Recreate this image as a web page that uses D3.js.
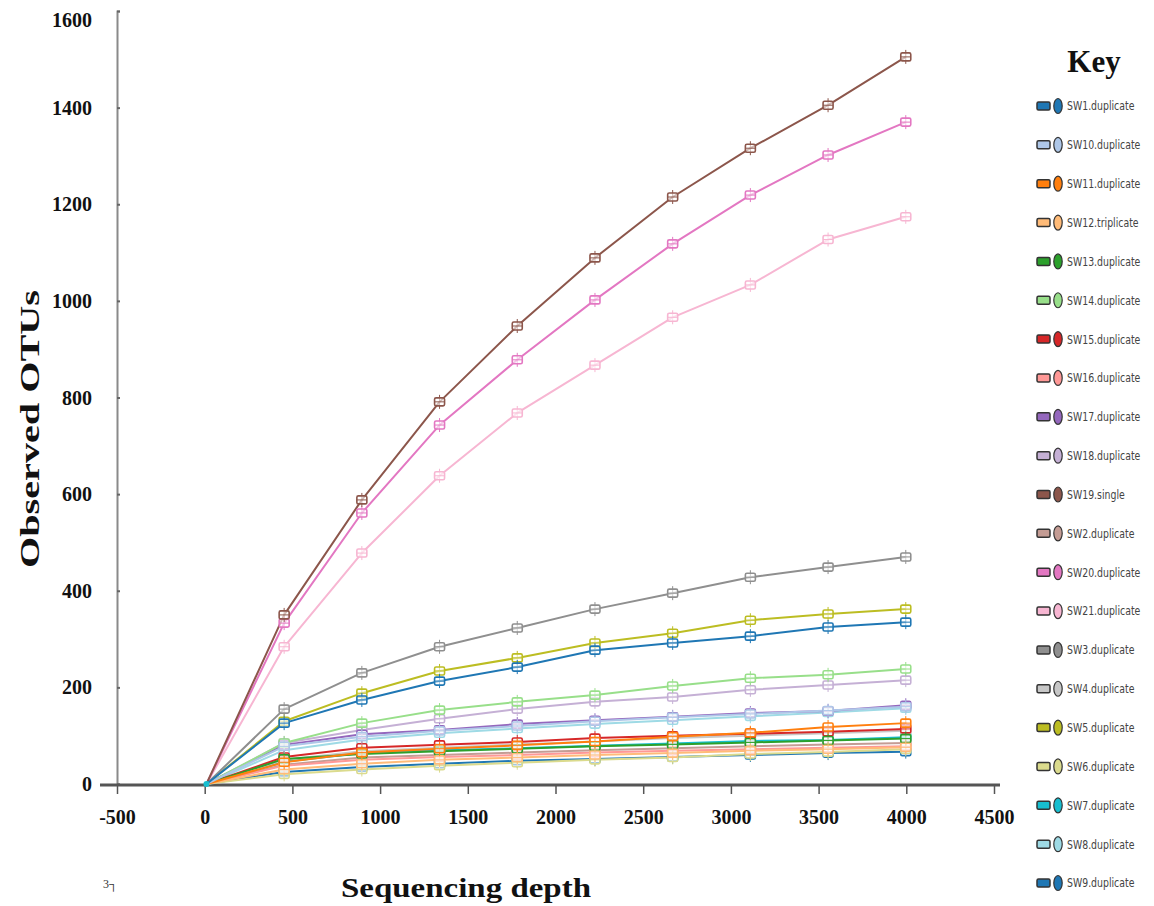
<!DOCTYPE html>
<html>
<head>
<meta charset="utf-8">
<script src="https://cdn.jsdelivr.net/npm/d3@7"></script>
<style>
  html, body { margin: 0; padding: 0; background: #ffffff; }
  svg { display: block; }
</style>
</head>
<body>
<svg id="chart" width="1154" height="906"></svg>
<script>
// ---------- data ----------
const depths = [10, 453, 896, 1339, 1782, 2225, 2668, 3111, 3554, 3997];
const xTicks = [-500, 0, 500, 1000, 1500, 2000, 2500, 3000, 3500, 4000, 4500];
const yTicks = [0, 200, 400, 600, 800, 1000, 1200, 1400, 1600];
const sampleNames = ["SW1.duplicate", "SW10.duplicate", "SW11.duplicate", "SW12.triplicate",
  "SW13.duplicate", "SW14.duplicate", "SW15.duplicate", "SW16.duplicate", "SW17.duplicate",
  "SW18.duplicate", "SW19.single", "SW2.duplicate", "SW20.duplicate", "SW21.duplicate",
  "SW3.duplicate", "SW4.duplicate", "SW5.duplicate", "SW6.duplicate", "SW7.duplicate",
  "SW8.duplicate", "SW9.duplicate"];
const sampleColors = ["#1f77b4", "#aec7e8", "#ff7f0e", "#ffbb78", "#2ca02c", "#98df8a",
  "#d62728", "#ff9896", "#9467bd", "#c5b0d5", "#8c564b", "#c49c94", "#e377c2", "#f7b6d2",
  "#8f8f8f", "#c7c7c7", "#bcbd22", "#dbdb8d", "#17becf", "#9edae5", "#1f77b4"];
const SW1  = [0, 126, 174, 213, 242, 277, 292, 306, 325, 335];
const SW10 = [0, 78, 98, 110, 120, 130, 138, 145, 152, 160];
const SW11 = [0, 45, 65, 73, 80, 88, 98, 106, 118, 126];
const SW12 = [0, 30, 42, 50, 55, 60, 64, 69, 72, 76];
const SW13 = [0, 52, 62, 68, 73, 78, 82, 86, 90, 94];
const SW14 = [0, 85, 126, 153, 170, 184, 203, 219, 226, 238];
const SW15 = [0, 56, 75, 81, 87, 95, 100, 104, 108, 114];
const SW16 = [0, 38, 50, 56, 60, 65, 69, 72, 75, 78];
const SW17 = [0, 81, 103, 112, 124, 132, 139, 147, 151, 163];
const SW18 = [0, 85, 112, 135, 155, 170, 180, 195, 205, 215];
const SW19 = [0, 350, 588, 791, 948, 1089, 1215, 1316, 1405, 1505];
const SW2  = [0, 40, 55, 60, 65, 70, 74, 78, 82, 85];
const SW20 = [0, 333, 561, 743, 878, 1002, 1118, 1219, 1302, 1370];
const SW21 = [0, 284, 478, 638, 768, 867, 966, 1033, 1127, 1174];
const SW3  = [0, 155, 230, 284, 323, 362, 395, 428, 449, 470];
const SW4  = [0, 50, 68, 75, 82, 88, 95, 100, 105, 110];
const SW5  = [0, 130, 188, 234, 261, 292, 312, 339, 352, 362];
const SW6  = [0, 20, 30, 38, 44, 50, 55, 62, 66, 72];
const SW7  = [0, 46, 64, 70, 74, 79, 84, 89, 91, 97];
const SW8  = [0, 70, 92, 105, 115, 124, 132, 140, 148, 157];
const SW9  = [0, 25, 35, 42, 48, 52, 56, 60, 64, 67];
const sampleValues = [SW1, SW10, SW11, SW12, SW13, SW14, SW15, SW16, SW17, SW18, SW19,
  SW2, SW20, SW21, SW3, SW4, SW5, SW6, SW7, SW8, SW9];

const series = sampleNames.map((name, i) => ({
  name, color: sampleColors[i],
  points: depths.map((d, j) => ({ x: d, y: sampleValues[i][j] }))
}));

// ---------- layout ----------
const svg = d3.select("#chart");
const serif = "'Liberation Serif', 'Times New Roman', serif";
const narrow = "'Liberation Sans Narrow', 'DejaVu Sans Condensed', 'Liberation Sans', sans-serif";

const x = d3.scaleLinear().domain([-500, 4500]).range([117, 994]);
const y = d3.scaleLinear().domain([0, 1600]).range([784, 11]);

// y axis
const yAxis = svg.append("g").attr("transform", `translate(117,0)`)
  .call(d3.axisRight(y).tickValues(yTicks).tickSize(3).tickFormat(""));
yAxis.select(".domain").attr("stroke", "#8a8a8a").attr("stroke-width", 2);
yAxis.selectAll(".tick line").attr("stroke", "#666").attr("stroke-width", 2);

svg.append("g").selectAll("text").data(yTicks).join("text")
  .attr("x", 92).attr("y", d => y(d) + (d === 1600 ? 9 : 0))
  .attr("text-anchor", "end").attr("dominant-baseline", "central")
  .attr("font-family", serif).attr("font-weight", "bold").attr("font-size", 20)
  .attr("fill", "#111").text(d => d);

// x axis
const xAxis = svg.append("g").attr("transform", `translate(0,785)`)
  .call(d3.axisBottom(x).tickValues(xTicks).tickSize(9).tickSizeOuter(0).tickPadding(16)
    .tickFormat(d => String(d)));
xAxis.select(".domain").attr("stroke", "#555").attr("stroke-width", 3)
  .attr("d", "M100,0H1000");
xAxis.selectAll(".tick line").attr("stroke", "#555").attr("stroke-width", 1.5);
xAxis.selectAll(".tick text").attr("font-family", serif).attr("font-weight", "bold")
  .attr("font-size", 20).attr("fill", "#111");

// lines
const line = d3.line().x(d => x(d.x)).y(d => y(d.y));
const plot = svg.append("g");
const drawOrder = d3.range(series.length).reverse();
drawOrder.forEach(i => {
  const s = series[i];
  plot.append("path").datum(s.points)
    .attr("d", line).attr("fill", "none")
    .attr("stroke", s.color).attr("stroke-width", 2).attr("stroke-linejoin", "round");
});
drawOrder.forEach(i => {
  const s = series[i];
  const g = plot.append("g");
  const pts = s.points.slice(1);
  g.selectAll("line.w").data(pts).join("line")
    .attr("x1", d => x(d.x)).attr("x2", d => x(d.x))
    .attr("y1", d => y(d.y) - 7).attr("y2", d => y(d.y) + 7)
    .attr("stroke", s.color).attr("stroke-width", 1);
  g.selectAll("rect").data(pts).join("rect")
    .attr("x", d => x(d.x) - 5).attr("y", d => y(d.y) - 4)
    .attr("width", 10).attr("height", 8).attr("rx", 1.5)
    .attr("fill", "#fff").attr("fill-opacity", 0.6)
    .attr("stroke", s.color).attr("stroke-width", 1.6);
  g.selectAll("line.m").data(pts).join("line")
    .attr("x1", d => x(d.x) - 5).attr("x2", d => x(d.x) + 5)
    .attr("y1", d => y(d.y)).attr("y2", d => y(d.y))
    .attr("stroke", s.color).attr("stroke-width", 1);
});
// origin marker
svg.append("circle").attr("cx", x(depths[0])).attr("cy", y(0)).attr("r", 3)
  .attr("fill", sampleColors[18]);

// axis titles
svg.append("text")
  .attr("transform", "translate(39,429) rotate(-90)")
  .attr("text-anchor", "middle")
  .attr("font-family", serif).attr("font-weight", "bold").attr("font-size", 28)
  .attr("textLength", 278).attr("lengthAdjust", "spacingAndGlyphs")
  .attr("fill", "#111").text("Observed OTUs");
svg.append("text")
  .attr("x", 466).attr("y", 897).attr("text-anchor", "middle")
  .attr("font-family", serif).attr("font-weight", "bold").attr("font-size", 28)
  .attr("textLength", 250).attr("lengthAdjust", "spacingAndGlyphs")
  .attr("fill", "#111").text("Sequencing depth");
svg.append("text")
  .attr("x", 103).attr("y", 888)
  .attr("font-family", serif).attr("font-size", 12)
  .attr("fill", "#333").text("3┐");

// legend
svg.append("text")
  .attr("x", 1094).attr("y", 72).attr("text-anchor", "middle")
  .attr("font-family", serif).attr("font-weight", "bold").attr("font-size", 31)
  .attr("fill", "#111").text("Key");
const leg = svg.append("g").selectAll("g").data(series).join("g")
  .attr("transform", (d, i) => `translate(0,${106 + i * 38.85})`);
leg.append("rect").attr("x", 1037).attr("y", -4).attr("width", 13).attr("height", 8)
  .attr("rx", 1.5).attr("fill", d => d.color).attr("stroke", "#333").attr("stroke-width", 1.5);
leg.append("ellipse").attr("cx", 1058).attr("cy", 0).attr("rx", 4.2).attr("ry", 7.5)
  .attr("fill", d => d.color).attr("stroke", "#333").attr("stroke-width", 1.2);
leg.append("text").attr("transform", "translate(1067,0) scale(0.8,1)")
  .attr("dominant-baseline", "central")
  .attr("font-family", narrow).attr("font-size", 13).attr("fill", "#444")
  .text(d => d.name);
</script>
</body>
</html>
